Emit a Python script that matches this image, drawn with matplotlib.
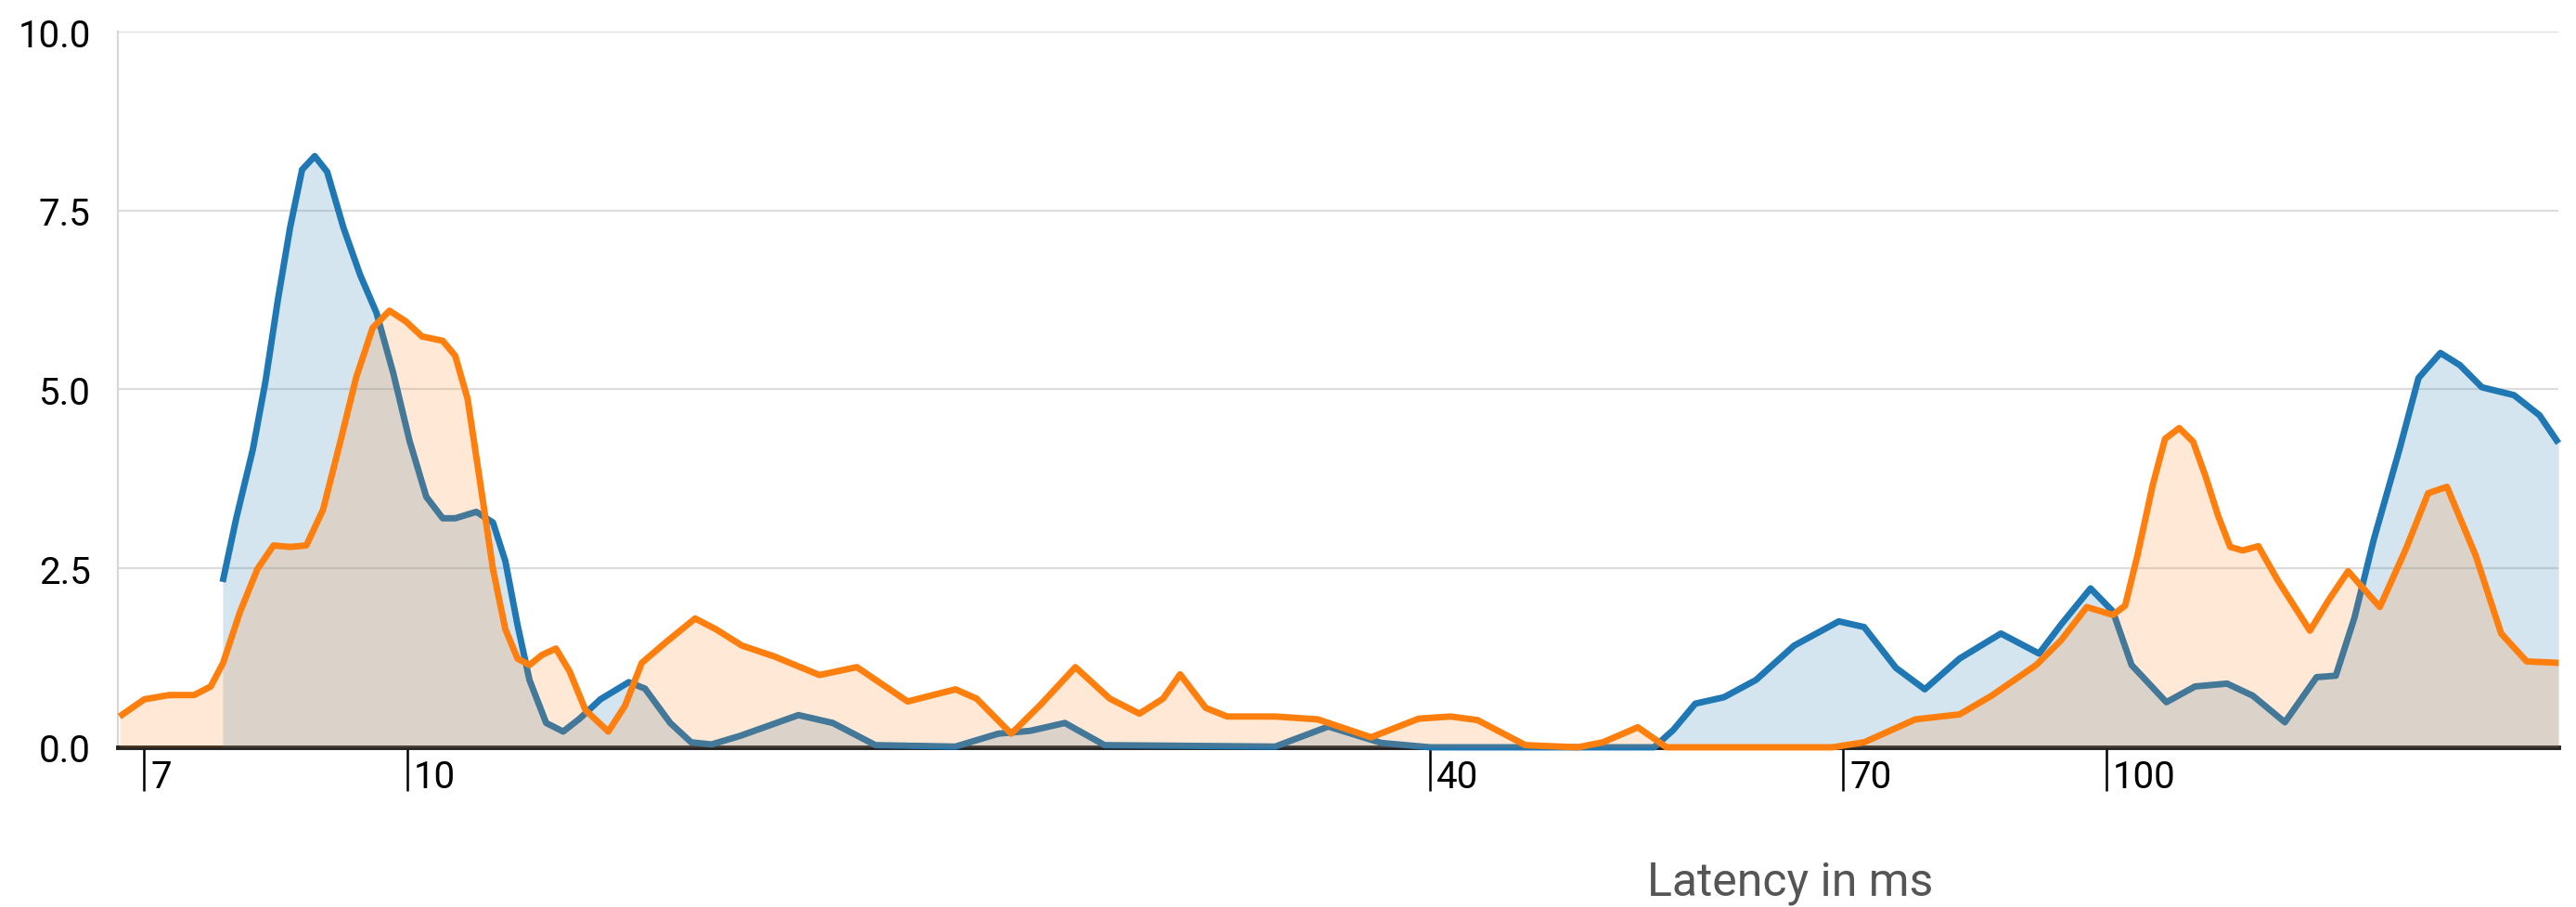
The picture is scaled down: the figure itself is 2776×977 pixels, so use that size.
import matplotlib
matplotlib.use("Agg")
import matplotlib.pyplot as plt
from matplotlib import transforms
from matplotlib.ticker import NullLocator

plt.rcParams['font.family'] = ['Roboto', 'DejaVu Sans']

# values (x = latency in ms, log scale)
blue_x = [7.785, 7.93, 8.11, 8.25, 8.39, 8.53, 8.67, 8.82, 8.97, 9.17,
          9.38, 9.59, 9.81, 10.03, 10.26, 10.49, 10.67, 10.98, 11.23, 11.42,
          11.61, 11.8, 12.07, 12.35, 12.63, 12.99, 13.5, 13.8, 14.28, 14.69,
          15.1, 15.7, 16.99, 17.8, 18.86, 21.02, 22.27, 23.26, 24.38, 25.73,
          32.42, 34.84, 37.46, 40.0, 48.85, 54.18, 55.6, 57.3, 59.57, 62.2,
          65.5, 69.6, 72.03, 75.2, 78.2, 81.98, 86.7, 91.3, 94.1, 97.9,
          100.9, 103.5, 108.5, 112.8, 117.8, 122, 127.4, 133, 136.5, 140,
          143.7, 148.8, 152.7, 157.3, 161.5, 166.4, 173.8, 179.9, 184.6]
blue_y = [2.31, 3.2, 4.16, 5.11, 6.25, 7.26, 8.07, 8.26, 8.04, 7.26,
          6.6, 6.07, 5.23, 4.28, 3.5, 3.2, 3.2, 3.29, 3.14, 2.6,
          1.71, 0.94, 0.34, 0.22, 0.4, 0.67, 0.91, 0.82, 0.34, 0.07,
          0.04, 0.16, 0.45, 0.34, 0.03, 0.01, 0.19, 0.23, 0.34, 0.03,
          0.01, 0.29, 0.06, 0.0, 0.0, 0.0, 0.24, 0.61, 0.7, 0.94,
          1.42, 1.76, 1.68, 1.11, 0.81, 1.24, 1.59, 1.31, 1.72, 2.22,
          1.9, 1.15, 0.63, 0.85, 0.89, 0.72, 0.35, 0.98, 1.0, 1.81,
          2.9, 4.16, 5.16, 5.51, 5.34, 5.03, 4.92, 4.64, 4.25]

orange_x = [6.77, 7.0, 7.24, 7.49, 7.66, 7.79, 7.97, 8.16, 8.34, 8.53,
            8.72, 8.92, 9.12, 9.33, 9.54, 9.76, 9.98, 10.2, 10.49, 10.67,
            10.85, 11.04, 11.23, 11.42, 11.61, 11.8, 12.0, 12.23, 12.46, 12.73,
            13.13, 13.43, 13.74, 14.2, 14.77, 15.19, 15.74, 16.44, 17.48, 18.39,
            19.7, 21.02, 21.63, 22.67, 23.6, 24.73, 25.91, 26.97, 27.85, 28.5,
            29.51, 30.38, 32.42, 34.35, 36.92, 39.38, 41.13, 42.65, 45.51, 48.85,
            50.55, 53.0, 55.1, 58.0, 69.0, 72.03, 77.2, 81.98, 85.6, 90.95,
            94.1, 97.4, 100.9, 102.6, 104.3, 106.5, 108.3, 110.4, 112.5, 114.4,
            116.4, 118.3, 120.3, 122.9, 126.2, 131.8, 135.3, 138.8, 144.9, 150.1,
            154.7, 158.7, 165.0, 170.8, 176.8, 184.6]
orange_y = [0.43, 0.67, 0.73, 0.73, 0.85, 1.18, 1.89, 2.49, 2.82, 2.8,
            2.82, 3.32, 4.22, 5.17, 5.86, 6.1, 5.95, 5.74, 5.68, 5.47,
            4.87, 3.68, 2.49, 1.65, 1.24, 1.15, 1.29, 1.38, 1.06, 0.52,
            0.22, 0.58, 1.18, 1.47, 1.8, 1.65, 1.42, 1.27, 1.01, 1.12,
            0.64, 0.81, 0.68, 0.19, 0.6, 1.12, 0.68, 0.47, 0.68, 1.02,
            0.55, 0.43, 0.43, 0.39, 0.14, 0.4, 0.43, 0.38, 0.03, 0.0,
            0.07, 0.28, 0.0, 0.0, 0.0, 0.07, 0.39, 0.46, 0.72, 1.15,
            1.5, 1.96, 1.85, 1.98, 2.67, 3.66, 4.31, 4.46, 4.27, 3.79,
            3.23, 2.8, 2.75, 2.81, 2.33, 1.63, 2.07, 2.46, 1.96, 2.77,
            3.55, 3.64, 2.68, 1.59, 1.2, 1.18]

x_ticks = [7, 10, 40, 70, 100]
y_ticks = [0, 2.5, 5, 7.5, 10]

blue = '#1f77b4'
orange = '#ff7f0e'

fig = plt.figure(figsize=(27.76, 9.78), dpi=100)
ax = fig.add_axes([0.0457, 0.1759, 0.9475, 0.7883])
ax.set_xscale('log')
ax.set_xlim(6.753, 184.6)
ax.set_ylim(0, 10)

ax.fill_between(blue_x, 0, blue_y, color=blue, alpha=0.19, lw=0, zorder=3)
ax.plot(blue_x, blue_y, color=blue, lw=5, zorder=4, clip_on=False,
        solid_joinstyle='round', solid_capstyle='butt')
ax.fill_between(orange_x, 0, orange_y, color=orange, alpha=0.17, lw=0, zorder=5)
ax.plot(orange_x, orange_y, color=orange, lw=5, zorder=6, clip_on=False,
        solid_joinstyle='round', solid_capstyle='butt')

# grid and spines
ax.set_yticks(y_ticks)
ax.set_yticklabels([f'{v:.1f}' for v in y_ticks])
ax.yaxis.grid(True, color='#dcdcdc', lw=1.6)
ax.set_axisbelow(True)
ax.tick_params(axis='y', length=0, pad=21, labelsize=29)
for s in ['top', 'right']:
    ax.spines[s].set_visible(False)
ax.spines['left'].set_color('#d6d6d6')
ax.spines['left'].set_linewidth(1.6)
ax.spines['bottom'].set_color('#222222')
ax.spines['bottom'].set_linewidth(3.5)
ax.spines['bottom'].set_zorder(2.5)

# x ticks: long marks, labels to the right of each mark
ax.set_xticks(x_ticks)
ax.xaxis.set_minor_locator(NullLocator())
ax.set_xticklabels([str(t) for t in x_ticks], ha='left', va='top')
ax.tick_params(axis='x', direction='out', length=34, width=1.8, color='black',
               labelsize=29, pad=-25)
offset = transforms.ScaledTranslation(5 / 72, 0, fig.dpi_scale_trans)
for lab in ax.get_xticklabels():
    lab.set_transform(lab.get_transform() + offset)

fig.text(0.695, 0.014, 'Latency in ms', ha='center', va='baseline',
         fontsize=36, color='#555555')

fig.savefig('out.png', dpi=100)
